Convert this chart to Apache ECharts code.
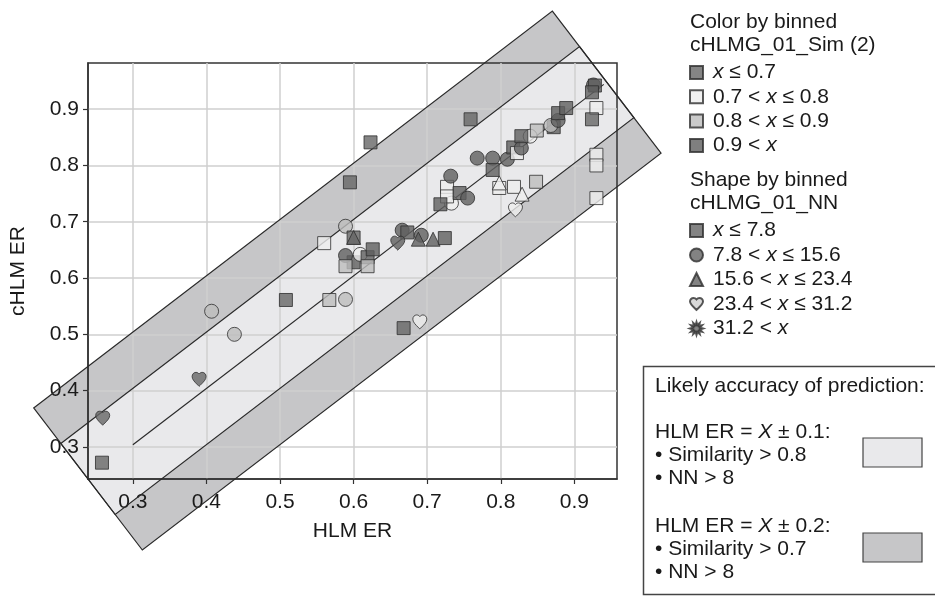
<!DOCTYPE html>
<html><head><meta charset="utf-8">
<script src="https://cdn.jsdelivr.net/npm/echarts@6/dist/echarts.min.js"></script>
<style>html,body{margin:0;padding:0;background:#fff}#c{width:935px;height:597px}</style>
</head><body><div id="c"></div>
<script>
// ---------------- data ----------------
const hlmER  = [0.258,0.259,0.390,0.407,0.438,0.508,0.567,0.589,0.560,0.589,0.600,0.600,0.595,0.623,0.600,0.589,0.589,0.609,0.619,0.626,0.619,0.668,0.690,0.666,0.673,0.660,0.692,0.688,0.708,0.724,0.733,0.727,0.727,0.718,0.732,0.744,0.755,0.759,0.768,0.789,0.809,0.789,0.798,0.798,0.818,0.848,0.829,0.820,0.817,0.822,0.828,0.840,0.828,0.849,0.872,0.868,0.878,0.878,0.889,0.926,0.928,0.924,0.930,0.924,0.930,0.930,0.930];
const chlmER = [0.272,0.351,0.420,0.541,0.500,0.561,0.561,0.562,0.662,0.692,0.672,0.672,0.770,0.841,0.628,0.640,0.621,0.642,0.637,0.651,0.621,0.511,0.522,0.685,0.681,0.662,0.676,0.669,0.669,0.671,0.733,0.762,0.745,0.731,0.781,0.751,0.742,0.882,0.813,0.813,0.811,0.792,0.760,0.769,0.762,0.771,0.749,0.721,0.832,0.822,0.831,0.852,0.852,0.862,0.868,0.871,0.880,0.893,0.902,0.943,0.942,0.930,0.902,0.882,0.819,0.800,0.742];
// similarity bin index (0: x<=0.7, 1: 0.7-0.8, 2: 0.8-0.9, 3: >0.9)
const simBin = [0,0,0,2,2,0,2,2,1,2,0,0,0,0,3,3,2,1,3,3,2,0,1,3,3,3,3,3,3,3,1,1,1,3,3,3,3,0,3,3,3,3,1,1,1,2,1,1,3,1,3,1,3,2,3,2,3,3,3,3,3,3,1,0,1,1,1];
// NN bin index (0: square, 1: circle, 2: triangle, 3: heart, 4: star)
const nnBin  = [0,3,3,1,1,0,0,1,0,1,0,2,0,0,0,1,0,1,0,0,0,0,3,1,0,3,1,2,2,0,1,0,0,0,1,0,1,0,1,1,1,0,0,2,0,0,2,3,0,0,1,1,0,0,0,1,1,0,0,1,0,0,0,0,0,0,0];
const simBinLabels = ['x ≤ 0.7','0.7 < x ≤ 0.8','0.8 < x ≤ 0.9','0.9 < x'];
const nnBinLabels  = ['x ≤ 7.8','7.8 < x ≤ 15.6','15.6 < x ≤ 23.4','23.4 < x ≤ 31.2','31.2 < x'];
const axisTicks = [0.3,0.4,0.5,0.6,0.7,0.8,0.9];
const xRange = [0.239, 0.958];
const yRange = [0.243, 0.982];
// prediction band: centre line y = x + bandOffset, half widths ±0.1 and ±0.2
const bandX = [0.239, 0.944];
const bandOffset = 0.004;
const bandHalf = [0.1, 0.2];
const centerLineX = [0.3, 0.94];

// ---------------- styles ----------------
const FONT = '"Liberation Sans", Arial, Helvetica, sans-serif';
const TXT = '#1a1a1a';
const simColors = ['#666666','#eeeeee','#bdbdbd','#5f5f5f'];
const heartPath = 'path://M12 21.35l-1.45-1.32C5.4 15.36 2 12.28 2 8.5 2 5.42 4.42 3 7.5 3c1.74 0 3.41.81 4.5 2.09C13.09 3.81 14.76 3 16.5 3 19.58 3 22 5.42 22 8.5c0 3.78-3.4 6.86-8.55 11.54L12 21.35z';
function starPath(n, R, r){
  let d='';
  for(let i=0;i<2*n;i++){
    const a=Math.PI*i/n - Math.PI/2, rad = i%2 ? r : R;
    d += (i?'L':'M') + (R+rad*Math.cos(a)).toFixed(2) + ' ' + (R+rad*Math.sin(a)).toFixed(2);
  }
  return 'path://'+d+'Z';
}
const shapeSymbols = ['rect','circle','triangle',heartPath,starPath(12,10,5.5)];
const shapeSizes = [13,14,14,14,15];
const shapeLegendColors = ['#646464','#646464','#646464','#cfcfcf','#646464'];
const BORDER = '#2e2e2e';

const points = hlmER.map((x,i)=>({
  value:[x, chlmER[i]],
  symbol: shapeSymbols[nnBin[i]],
  symbolSize: shapeSizes[nnBin[i]],
  itemStyle:{color: simColors[simBin[i]], borderColor: BORDER, borderWidth: 1}
}));

function bandGeometry(api){
  const p0 = api.coord([bandX[0], bandX[0]+bandOffset]);
  const p1 = api.coord([bandX[1], bandX[1]+bandOffset]);
  const dx=p1[0]-p0[0], dy=p1[1]-p0[1], L=Math.hypot(dx,dy);
  const nx=-dy/L, ny=dx/L;
  const dist = h => { const q = api.coord([bandX[0], bandX[0]+bandOffset+h]); return (q[0]-p0[0])*nx + (q[1]-p0[1])*ny; };
  const off = (p,d) => [p[0]+nx*d, p[1]+ny*d];
  const rect = h => { const a=dist(h), b=dist(-h); return [off(p0,a), off(p1,a), off(p1,b), off(p0,b)]; };
  return {outer: rect(bandHalf[1]), inner: rect(bandHalf[0]),
          c0: api.coord([centerLineX[0], centerLineX[0]+bandOffset]),
          c1: api.coord([centerLineX[1], centerLineX[1]+bandOffset])};
}

const legendRich = {
  i:{fontStyle:'italic', fontSize:21, fontFamily:FONT, color:TXT, lineHeight:20},
};
const legendFmt = name => name.replace(/x/g, '{i|x}');

const dummySeries = [];
simBinLabels.forEach((n,i)=>dummySeries.push({type:'scatter', name:n, data:[], symbol:'rect',
  itemStyle:{color:simColors[i], borderColor:BORDER, borderWidth:1}}));
nnBinLabels.forEach((n,i)=>dummySeries.push({type:'scatter', name:n, data:[], symbol:shapeSymbols[i],
  itemStyle:{color:shapeLegendColors[i], borderColor:BORDER, borderWidth:1}}));

const legendBase = {
  orient:'vertical', left:689, padding:0, itemWidth:13, itemHeight:13, selectedMode:false,
  formatter: legendFmt,
  textStyle:{fontSize:21, fontFamily:FONT, color:TXT, lineHeight:20, padding:[0,0,0,5], rich:legendRich}
};

const chart = echarts.init(document.getElementById('c'), null, {renderer:'canvas'});
const tstyle = (text, x, y, extra) => ({type:'text', x, y, style:Object.assign({text, fill:TXT, fontSize:21, fontFamily:FONT, verticalAlign:'middle'}, extra||{})});
const richX = {i:{fontStyle:'italic', fontSize:21, fontFamily:FONT, fill:TXT}};

chart.setOption({
  animation:false,
  backgroundColor:'#ffffff',
  grid:{left:87, top:63, width:530, height:416, show:true, borderColor:'#333', borderWidth:1.5, backgroundColor:'transparent', z:2},
  xAxis:{type:'value', min:xRange[0], max:xRange[1], z:2,
    name:'HLM ER', nameLocation:'middle', nameGap:42,
    nameTextStyle:{fontSize:21, fontFamily:FONT, color:TXT},
    axisLine:{show:true, onZero:false, lineStyle:{color:'#333', width:1.5}},
    axisTick:{show:true, length:5, customValues:axisTicks, lineStyle:{color:'#333', width:1.2}},
    axisLabel:{customValues:axisTicks, formatter:v=>v.toFixed(1), fontSize:21, fontFamily:FONT, color:TXT, margin:13},
    splitLine:{show:true, lineStyle:{color:'#cfcfcf', width:1.5}}
  },
  yAxis:{type:'value', min:yRange[0], max:yRange[1], z:2,
    name:'cHLM ER', nameLocation:'middle', nameGap:59, nameRotate:90,
    nameTextStyle:{fontSize:21, fontFamily:FONT, color:TXT},
    axisLine:{show:true, onZero:false, lineStyle:{color:'#333', width:1.5}},
    axisTick:{show:true, length:5, customValues:axisTicks, lineStyle:{color:'#333', width:1.2}},
    axisLabel:{customValues:axisTicks, formatter:v=>v.toFixed(1), fontSize:21, fontFamily:FONT, color:TXT, margin:9},
    splitLine:{show:true, lineStyle:{color:'#cfcfcf', width:1.5}}
  },
  legend:[
    Object.assign({}, legendBase, {id:'sim', top:62, itemGap:3.3, data:simBinLabels}),
    Object.assign({}, legendBase, {id:'nn', top:220, itemGap:3.5, data:nnBinLabels})
  ],
  series:[
    {type:'custom', name:'bandFill', z:1, silent:true, data:[[bandX[0], bandX[0]+bandOffset]],
      renderItem:(params, api)=>{
        const g = bandGeometry(api);
        return {type:'group', children:[
          {type:'polygon', shape:{points:g.outer}, style:{fill:'#c6c6c8', stroke:'none'}},
          {type:'polygon', shape:{points:g.inner}, style:{fill:'#e9e9eb', stroke:'none'}}
        ]};
      }},
    {type:'custom', name:'bandLines', z:3, silent:true, data:[[bandX[0], bandX[0]+bandOffset]],
      renderItem:(params, api)=>{
        const g = bandGeometry(api);
        return {type:'group', children:[
          {type:'polygon', shape:{points:g.outer}, style:{fill:'none', stroke:'#2a2a2a', lineWidth:1.2}},
          {type:'polygon', shape:{points:g.inner}, style:{fill:'none', stroke:'#2a2a2a', lineWidth:1.2}},
          {type:'line', shape:{x1:g.c0[0], y1:g.c0[1], x2:g.c1[0], y2:g.c1[1]}, style:{stroke:'#2a2a2a', lineWidth:1.2}}
        ]};
      }},
    {type:'scatter', name:'points', z:5, data:points}
  ].concat(dummySeries),
  graphic:[
    tstyle('Color by binned', 690, 22),
    tstyle('cHLMG_01_Sim (2)', 690, 45),
    tstyle('Shape by binned', 690, 180),
    tstyle('cHLMG_01_NN', 690, 203),
    {type:'rect', shape:{x:643.5, y:366.5, width:300, height:228}, style:{fill:'#fff', stroke:'#444', lineWidth:1.5}},
    tstyle('Likely accuracy of prediction:', 655, 386),
    tstyle('HLM ER = {i|X} ± 0.1:', 655, 432, {rich:richX}),
    tstyle('• Similarity > 0.8', 655, 455),
    tstyle('• NN > 8', 655, 478),
    tstyle('HLM ER = {i|X} ± 0.2:', 655, 526, {rich:richX}),
    tstyle('• Similarity > 0.7', 655, 549),
    tstyle('• NN > 8', 655, 572),
    {type:'rect', shape:{x:863, y:438, width:59, height:29}, style:{fill:'#e9e9eb', stroke:'#444', lineWidth:1.2}},
    {type:'rect', shape:{x:863, y:533, width:59, height:29}, style:{fill:'#c6c6c8', stroke:'#444', lineWidth:1.2}}
  ]
});
</script></body></html>
